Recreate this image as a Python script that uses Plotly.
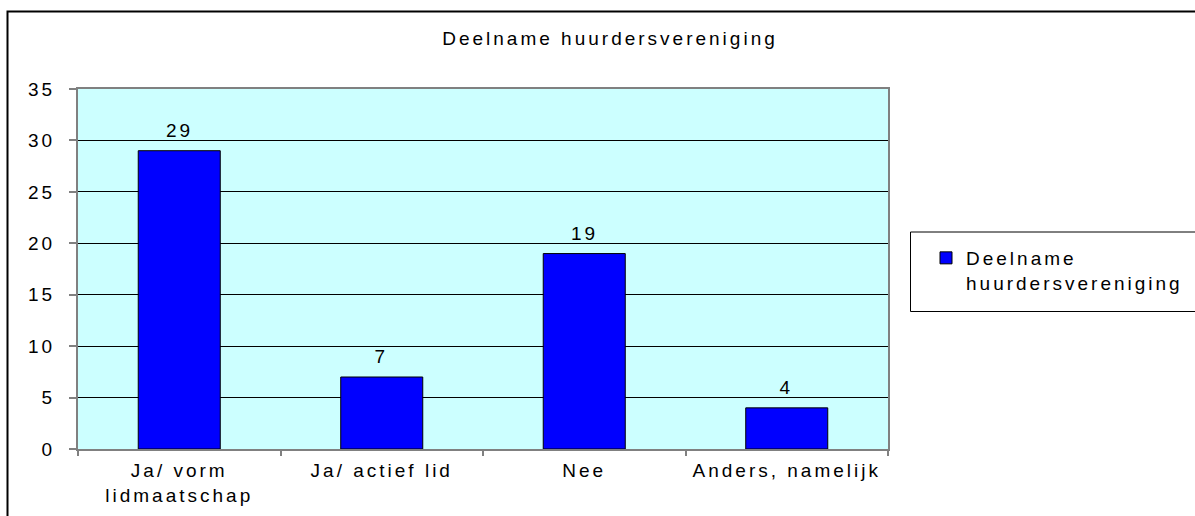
import plotly.graph_objects as go

# data
categories = ["Ja/ vorm<br>lidmaatschap", "Ja/ actief lid", "Nee", "Anders, namelijk"]
values = [29, 7, 19, 4]
series_name = "Deelname<br>huurdersvereniging"
title_text = "Deelname huurdersvereniging"

W, H = 1195, 516
L, R, T, B = 78, 888, 89, 449  # plot area in px
pw, ph = R - L, B - T
FONT = "Arial"
FS = 19


def px_x(x):
    # px -> paper x
    return (x - L) / pw


def px_y(y):
    # px -> paper y
    return (B - y) / ph


fig = go.Figure(
    go.Bar(
        x=categories,
        y=values,
        name=series_name,
        marker=dict(color="#0000FF", line=dict(color="#000000", width=1)),
        width=0.405,
    )
)

# value labels above the bars
for c, v in zip(categories, values):
    fig.add_annotation(
        x=c, y=v, text=str(v), showarrow=False,
        yanchor="bottom", yshift=8,
        font=dict(family=FONT, size=FS, color="#000000"),
    )

fig.update_layout(
    width=W,
    height=H,
    margin=dict(l=L, r=W - R, t=T, b=H - B, autoexpand=False),
    paper_bgcolor="#FFFFFF",
    plot_bgcolor="#CCFFFF",
    font=dict(family=FONT, size=FS, color="#000000"),
    title=dict(
        text=title_text,
        x=610 / W, xref="container", xanchor="center",
        y=1 - 38 / H, yref="container", yanchor="middle",
        font=dict(family=FONT, size=FS, color="#000000"),
    ),
    showlegend=True,
    legend=dict(
        x=px_x(926), y=px_y(239), xanchor="left", yanchor="top",
        bgcolor="rgba(0,0,0,0)", borderwidth=0,
        font=dict(family=FONT, size=FS, color="#000000"),
        itemwidth=30, tracegroupgap=0, valign="top",
    ),
)

fig.update_yaxes(
    range=[0, 35], dtick=5, tick0=0,
    showgrid=True, gridcolor="#000000", gridwidth=1,
    showline=True, linecolor="#808080", linewidth=2, mirror=True,
    ticks="outside", ticklen=7, tickcolor="#808080", tickwidth=2,
    ticklabelstandoff=10,
    tickfont=dict(family=FONT, size=FS),
    zeroline=False,
)
fig.update_xaxes(
    showline=True, linecolor="#808080", linewidth=2, mirror=True,
    ticks="outside", ticklen=5, tickcolor="#808080", tickwidth=2,
    tickson="boundaries", ticklabelstandoff=3,
    tickfont=dict(family=FONT, size=FS),
)

# outer chart border (cut off at right and bottom)
fig.add_shape(
    type="rect", xref="paper", yref="paper",
    x0=px_x(7.5), x1=px_x(1215), y0=px_y(11.5), y1=px_y(540),
    line=dict(color="#000000", width=2), fillcolor="rgba(0,0,0,0)", layer="below",
)
# legend box (also runs off the right edge of the picture)
fig.add_shape(
    type="rect", xref="paper", yref="paper",
    x0=px_x(910.5), x1=px_x(1215), y0=px_y(232), y1=px_y(311.5),
    line=dict(color="#000000", width=1), fillcolor="rgba(0,0,0,0)",
)

# drop the page margin, widen the text a little like the original,
# and stop the legend from clipping the wider text
page_js = (
    "document.body.style.margin='0';"
    "document.querySelectorAll('.main-svg text')"
    ".forEach(function(t){t.style.letterSpacing='3px';});"
    "document.querySelectorAll('.legend [clip-path]')"
    ".forEach(function(e){e.removeAttribute('clip-path');});"
)

fig.write_html("out.html", post_script=page_js, config={"displayModeBar": False})
